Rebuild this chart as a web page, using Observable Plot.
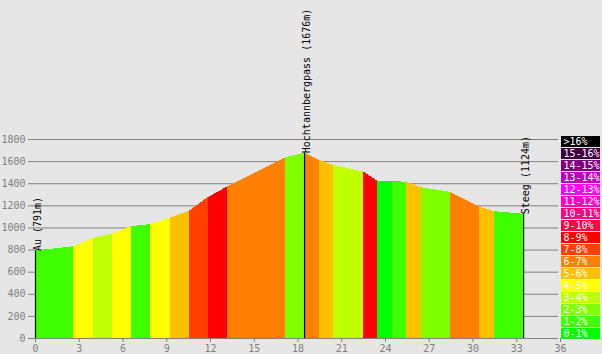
<!DOCTYPE html>
<html>
<head>
<meta charset="utf-8">
<script src="https://cdn.jsdelivr.net/npm/d3@7"></script>
<script src="https://cdn.jsdelivr.net/npm/@observablehq/plot@0.6"></script>
<style>
  html, body { margin: 0; padding: 0; background: #e6e6e6; }
  #wrap { position: relative; width: 602px; height: 354px; background: #e6e6e6; }
  #legend { position: absolute; left: 561px; top: 136px; }
</style>
</head>
<body>
<div id="wrap"><div id="main"></div><div id="legend"></div></div>
<script>
// Profile boundary points (km, elevation m)
const kms   = [0, 2.6, 3.98, 5.28, 6.58, 7.89, 9.26, 10.56, 11.87, 13.17, 17.15, 18.45, 19.48, 20.44, 22.5, 23.46, 24.49, 25.45, 26.47, 28.46, 30.45, 31.48, 33.47];
const elevs = [791, 830, 905, 945, 1012, 1030, 1090, 1152, 1276, 1370, 1635, 1676, 1612, 1565, 1505, 1424, 1421, 1412, 1364, 1322, 1189, 1147, 1124];
// gradient class of each segment between consecutive points
const segClasses = ["1-2%", "4-5%", "3-4%", "4-5%", "1-2%", "4-5%", "5-6%", "7-8%", "8-9%", "6-7%", "2-3%", "6-7%", "5-6%", "3-4%", "8-9%", "0-1%", "1-2%", "5-6%", "2-3%", "6-7%", "5-6%", "1-2%"];

// Places
const placeNames = ["Au (791m)", "Hochtannbergpass (1676m)", "Steeg (1124m)"];
const placeKm    = [0, 18.45, 33.47];
const placeElev  = [791, 1676, 1124];

// Legend classes and colours (top to bottom)
const classLabels = [">16%", "15-16%", "14-15%", "13-14%", "12-13%", "11-12%", "10-11%", "9-10%", "8-9%", "7-8%", "6-7%", "5-6%", "4-5%", "3-4%", "2-3%", "1-2%", "0-1%"];
const classColors = ["#000000", "#400040", "#800080", "#c000c0", "#ff00ff", "#ff00c0", "#ff0080", "#ff0040", "#ff0000", "#ff4000", "#ff8000", "#ffc000", "#ffff00", "#c0ff00", "#80ff00", "#40ff00", "#00ff00"];

const xTicks = [0, 3, 6, 9, 12, 15, 18, 21, 24, 27, 30, 33, 36];
const yTicks = [0, 200, 400, 600, 800, 1000, 1200, 1400, 1600, 1800];

const rows = [];
for (let i = 0; i < segClasses.length; i++) {
  rows.push({km: kms[i], elev: elevs[i], seg: i, cls: segClasses[i]});
  rows.push({km: kms[i + 1], elev: elevs[i + 1], seg: i, cls: segClasses[i]});
}
const places = placeNames.map((name, i) => ({name, km: placeKm[i], elev: placeElev[i]}));
const legendRows = classLabels.map(label => ({label}));

const font = "DejaVu Sans Mono";

const main = Plot.plot({
  width: 602,
  height: 354,
  marginLeft: 35,
  marginRight: 42,
  marginTop: 139,
  marginBottom: 16,
  style: {background: "transparent", fontFamily: font, fontSize: "10px", color: "#808080", overflow: "visible"},
  x: {domain: [0, 36]},
  y: {domain: [0, 1800]},
  color: {domain: classLabels, range: classColors},
  marks: [
    Plot.ruleY(yTicks, {stroke: "#808080", insetLeft: -7, insetRight: 2}),
    Plot.areaY(rows, {x: "km", y1: 0, y2: "elev", z: "seg", fill: "cls", shapeRendering: "crispEdges"}),
    Plot.ruleX(places, {x: "km", y1: 0, y2: "elev", stroke: "black", strokeWidth: 1.2}),
    Plot.text(places, {x: "km", y: "elev", text: "name", rotate: -90, textAnchor: "start", dx: 2, fill: "black", fontFamily: font, fontSize: 10}),
    Plot.axisY({ticks: yTicks, tickFormat: d => String(d), tickSize: 0, tickPadding: 10, label: null, fill: "#808080"}),
    Plot.axisX({ticks: xTicks, tickFormat: d => String(d), tickSize: 4, tickPadding: 2, label: null, stroke: "#808080", fill: "#808080"})
  ]
});
document.getElementById("main").appendChild(main);

const legend = Plot.plot({
  width: 39,
  height: 204,
  margin: 0,
  style: {background: "transparent", fontFamily: font, fontSize: "10px", overflow: "visible"},
  x: {axis: null},
  y: {type: "band", domain: classLabels, paddingInner: 0.08, paddingOuter: 0, axis: null},
  color: {domain: classLabels, range: classColors},
  marks: [
    Plot.cell(legendRows, {y: "label", fill: "label"}),
    Plot.text(legendRows, {y: "label", text: "label", frameAnchor: "left", dx: 2, fill: "white", fontFamily: font, fontSize: 10})
  ]
});
document.getElementById("legend").appendChild(legend);
</script>
</body>
</html>
